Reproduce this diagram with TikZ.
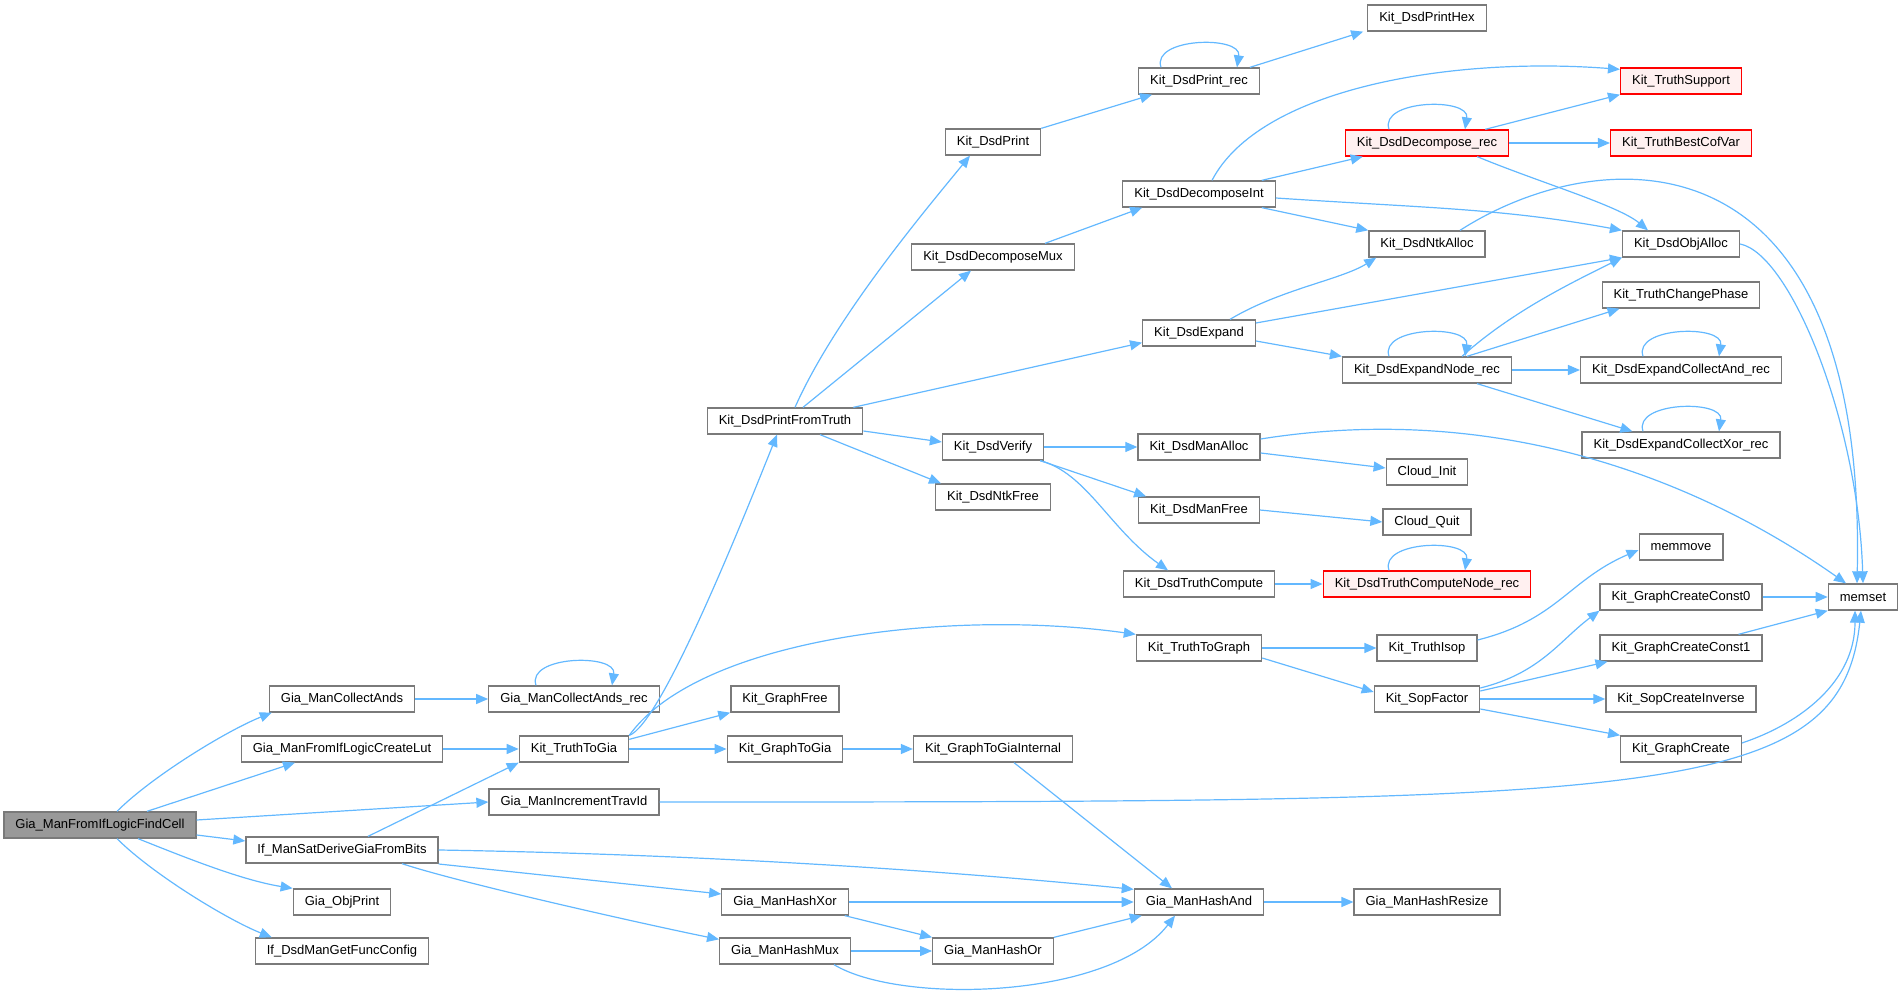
\documentclass[tikz,border=0pt]{standalone}
\usepackage{fontspec}
\setmainfont{Liberation Sans}
\usetikzlibrary{arrows.meta}
\definecolor{edgeblue}{HTML}{63B8FF}
\definecolor{boxgray}{HTML}{7A7A7A}
\definecolor{rootgray}{HTML}{999999}
\definecolor{redline}{HTML}{FF0000}
\definecolor{redfill}{HTML}{FFF0F0}

\begin{document}
\begin{tikzpicture}[x=0.5pt, y=-0.5pt,
    every node/.style={rectangle, draw=boxgray, line width=0.65pt, fill=white, inner xsep=5.75pt, inner ysep=0pt, minimum height=13pt, font=\fontsize{6.5}{7.8}\selectfont},
    rootbox/.style={fill=rootgray},
    redbox/.style={draw=redline, fill=redfill},
    call/.style={draw=edgeblue, line width=0.6pt, -{Triangle[length=6pt,width=5pt]}}]
    \useasboundingbox (0,0) rectangle (1903,994);

    % column 1 and 2
    \node[rootbox] (findcell) at (100,825) {Gia\_ManFromIfLogicFindCell};
    \node (collectands) at (342,699) {Gia\_ManCollectAnds};
    \node (createlut) at (342,749) {Gia\_ManFromIfLogicCreateLut};
    \node (satderive) at (342,850) {If\_ManSatDeriveGiaFromBits};
    \node (objprint) at (342,902) {Gia\_ObjPrint};
    \node (funcconfig) at (342,951) {If\_DsdManGetFuncConfig};

    % column 3
    \node (collectrec) at (574,699) {Gia\_ManCollectAnds\_rec};
    \node (truthtogia) at (574,749) {Kit\_TruthToGia};
    \node (travid) at (574,802) {Gia\_ManIncrementTravId};

    % column 4
    \node (printfromtruth) at (785,421) {Kit\_DsdPrintFromTruth};
    \node (graphfree) at (785,699) {Kit\_GraphFree};
    \node (graphtogia) at (785,749) {Kit\_GraphToGia};
    \node (hashxor) at (785,902) {Gia\_ManHashXor};
    \node (hashmux) at (785,951) {Gia\_ManHashMux};

    % column 5
    \node (dsdprint) at (993,142) {Kit\_DsdPrint};
    \node (decompmux) at (993,257) {Kit\_DsdDecomposeMux};
    \node (verify) at (993,447) {Kit\_DsdVerify};
    \node (ntkfree) at (993,497) {Kit\_DsdNtkFree};
    \node (togiainternal) at (993,749) {Kit\_GraphToGiaInternal};
    \node (hashor) at (993,951) {Gia\_ManHashOr};

    % column 6
    \node (printrec) at (1199,81) {Kit\_DsdPrint\_rec};
    \node (decompint) at (1199,194) {Kit\_DsdDecomposeInt};
    \node (expand) at (1199,333) {Kit\_DsdExpand};
    \node (manalloc) at (1199,447) {Kit\_DsdManAlloc};
    \node (manfree) at (1199,510) {Kit\_DsdManFree};
    \node (truthcompute) at (1199,584) {Kit\_DsdTruthCompute};
    \node (truthtograph) at (1199,648) {Kit\_TruthToGraph};
    \node (hashand) at (1199,902) {Gia\_ManHashAnd};

    % column 7
    \node (printhex) at (1427,18) {Kit\_DsdPrintHex};
    \node[redbox] (decomprec) at (1427,143) {Kit\_DsdDecompose\_rec};
    \node (ntkalloc) at (1427,244) {Kit\_DsdNtkAlloc};
    \node (expandnode) at (1427,370) {Kit\_DsdExpandNode\_rec};
    \node (cloudinit) at (1427,472) {Cloud\_Init};
    \node (cloudquit) at (1427,522) {Cloud\_Quit};
    \node[redbox] (computenode) at (1427,584) {Kit\_DsdTruthComputeNode\_rec};
    \node (truthisop) at (1427,648) {Kit\_TruthIsop};
    \node (sopfactor) at (1427,699) {Kit\_SopFactor};
    \node (hashresize) at (1427,902) {Gia\_ManHashResize};

    % column 8 and 9
    \node[redbox] (truthsupport) at (1681,81) {Kit\_TruthSupport};
    \node[redbox] (bestcofvar) at (1681,143) {Kit\_TruthBestCofVar};
    \node (objalloc) at (1681,244) {Kit\_DsdObjAlloc};
    \node (changephase) at (1681,295) {Kit\_TruthChangePhase};
    \node (collectand) at (1681,370) {Kit\_DsdExpandCollectAnd\_rec};
    \node (collectxor) at (1681,445) {Kit\_DsdExpandCollectXor\_rec};
    \node (memmove) at (1681,547) {memmove};
    \node (const0) at (1681,597) {Kit\_GraphCreateConst0};
    \node (const1) at (1681,648) {Kit\_GraphCreateConst1};
    \node (sopinverse) at (1681,699) {Kit\_SopCreateInverse};
    \node (graphcreate) at (1681,749) {Kit\_GraphCreate};
    \node (memset) at (1863,597) {memset};

    % calls from the root
    \draw[call] ([xshift=8.5pt]findcell.north) .. controls +(35,-35) and +(-45,18) .. ([xshift=1.5pt]collectands.south west);
    \draw[call] ([xshift=23.5pt]findcell.north) -- ([xshift=-23.5pt]createlut.south);
    \draw[call] ([yshift=2.5pt]findcell.east) -- (travid.west);
    \draw[call] ([yshift=-5pt]findcell.east) -- ([yshift=4.5pt]satderive.west);
    \draw[call] ([xshift=19pt]findcell.south) .. controls +(50,20) and +(-50,-8) .. (objprint.north west);
    \draw[call] ([xshift=8.5pt]findcell.south) .. controls +(35,35) and +(-45,-18) .. ([xshift=8.5pt]funcconfig.north west);

    \draw[call] (collectands) -- (collectrec);
    \draw[call] ([xshift=-19pt]collectrec.north) .. controls +(-10,-30) and +(5,-32) .. ([xshift=19pt]collectrec.north);
    \draw[call] (createlut) -- (truthtogia);
    \draw[call] (travid.east) .. controls +(1000,0) and +(-20,190) .. ([xshift=-1pt]memset.south);
    \draw[call] ([xshift=13pt]satderive.north) -- (truthtogia.south west);
    \draw[call] (satderive.east) .. controls +(300,5) and +(-150,-15) .. ([yshift=-0.5pt]hashand.north west);
    \draw[call] ([yshift=-7pt]satderive.east) -- ([yshift=4pt]hashxor.west);
    \draw[call] ([xshift=30pt]satderive.south) .. controls +(60,20) and +(-60,-12) .. ([yshift=-1pt]hashmux.north west);

    % Kit_TruthToGia
    \draw[call] (truthtogia.north east) .. controls +(31,-11) and +(-40,100) .. ([xshift=-4pt]printfromtruth.south);
    \draw[call] (truthtogia.north east) .. controls +(70,-97) and +(-187,-26) .. (truthtograph.north west);
    \draw[call] ([yshift=-2pt]truthtogia.north east) -- (graphfree.south west);
    \draw[call] (truthtogia) -- (graphtogia);

    % Kit_DsdPrintFromTruth
    \draw[call] ([xshift=5pt]printfromtruth.north) .. controls +(40,-90) and +(-45,55) .. ([xshift=-11.5pt]dsdprint.south);
    \draw[call] ([xshift=9pt]printfromtruth.north) -- ([xshift=-11pt]decompmux.south);
    \draw[call] ([xshift=-5pt]printfromtruth.north east) -- ([yshift=2pt]expand.south west);
    \draw[call] ([yshift=-5pt]printfromtruth.east) -- ([yshift=2.5pt]verify.west);
    \draw[call] ([xshift=17.5pt]printfromtruth.south) -- ([xshift=3pt]ntkfree.north west);

    % hashing
    \draw[call] (graphtogia) -- (togiainternal);
    \draw[call] ([xshift=10.5pt]togiainternal.south) -- ([xshift=-13.5pt]hashand.north);
    \draw[call] (hashxor) -- (hashand);
    \draw[call] ([xshift=-2pt]hashxor.south east) -- (hashor.north west);
    \draw[call] (hashmux) -- (hashor);
    \draw[call] ([xshift=24.5pt]hashmux.south) .. controls +(66,40) and +(-65,84) .. ([xshift=-12pt]hashand.south);
    \draw[call] (hashor.north east) -- ([xshift=4pt]hashand.south west);
    \draw[call] (hashand) -- (hashresize);

    % printing
    \draw[call] (dsdprint.north east) -- ([xshift=7pt]printrec.south west);
    \draw[call] ([xshift=-19pt]printrec.north) .. controls +(-10,-30) and +(5,-32) .. ([xshift=19pt]printrec.north);
    \draw[call] ([xshift=-5pt]printrec.north east) -- ([xshift=-2pt]printhex.south west);

    % decomposition
    \draw[call] ([xshift=26pt]decompmux.north) -- ([xshift=10pt]decompint.south west);
    \draw[call] ([xshift=6.5pt]decompint.north) .. controls +(48,-92) and +(-169,-13) .. ([yshift=-1pt]truthsupport.north west);
    \draw[call] ([xshift=-7pt]decompint.north east) -- ([xshift=9pt]decomprec.south west);
    \draw[call] ([xshift=-7pt]decompint.south east) -- (ntkalloc.north west);
    \draw[call] ([yshift=-2pt]decompint.east) .. controls +(150,10) and +(-120,-22) .. (objalloc.north west);
    \draw[call] ([xshift=-19pt]decomprec.north) .. controls +(-10,-30) and +(5,-32) .. ([xshift=19pt]decomprec.north);
    \draw[call] ([xshift=-12pt]decomprec.north east) -- (truthsupport.south west);
    \draw[call] (decomprec) -- (bestcofvar);
    \draw[call] ([xshift=-16pt]decomprec.south east) .. controls +(60,25) and +(-30,-25) .. ([xshift=-16.5pt]objalloc.north);
    \draw[call] ([xshift=16.5pt]ntkalloc.north) .. controls +(140,-90) and +(10,-460) .. ([xshift=-3pt]memset.north);
    \draw[call] (objalloc.east) .. controls +(50,10) and +(-5,-163) .. (memset.north);

    % expansion
    \draw[call] ([xshift=15.5pt]expand.north) .. controls +(50,-30) and +(-35,22) .. ([xshift=4pt]ntkalloc.south west);
    \draw[call] ([yshift=5pt]expand.east) -- (objalloc.south west);
    \draw[call] ([yshift=-4pt]expand.east) -- (expandnode.north west);
    \draw[call] ([xshift=-19pt]expandnode.north) .. controls +(-10,-30) and +(5,-32) .. ([xshift=19pt]expandnode.north);
    \draw[call] ([xshift=17.5pt]expandnode.north) .. controls +(50,-45) and +(-50,25) .. (objalloc.south west);
    \draw[call] ([xshift=20pt]expandnode.north) -- ([xshift=9pt]changephase.south west);
    \draw[call] (expandnode) -- (collectand);
    \draw[call] ([xshift=25pt]expandnode.south) -- ([xshift=25.5pt]collectxor.north west);
    \draw[call] ([xshift=-19pt]collectand.north) .. controls +(-10,-30) and +(5,-32) .. ([xshift=19pt]collectand.north);
    \draw[call] ([xshift=-19pt]collectxor.north) .. controls +(-10,-30) and +(5,-32) .. ([xshift=19pt]collectxor.north);

    % verification
    \draw[call] (verify) -- (manalloc);
    \draw[call] ([xshift=-2pt]verify.south east) -- ([xshift=4pt]manfree.north west);
    \draw[call] ([xshift=-2pt]verify.south east) .. controls +(46,12) and +(-58,-41) .. ([xshift=-15.5pt]truthcompute.north);
    \draw[call] ([yshift=-3pt]manalloc.east) -- ([yshift=2pt]cloudinit.west);
    \draw[call] ([yshift=4pt]manalloc.east) .. controls +(239,-38) and +(-146,-103) .. ([xshift=-8.5pt]memset.north);
    \draw[call] (manfree.east) -- (cloudquit.west);
    \draw[call] (truthcompute) -- (computenode);
    \draw[call] ([xshift=-19pt]computenode.north) .. controls +(-10,-30) and +(5,-32) .. ([xshift=19pt]computenode.north);

    % truth to graph
    \draw[call] (truthtograph) -- (truthisop);
    \draw[call] ([yshift=-5pt]truthtograph.east) -- ([yshift=3.5pt]sopfactor.west);
    \draw[call] ([yshift=4pt]truthisop.east) .. controls +(80,-20) and +(-70,30) .. ([yshift=-1.5pt]memmove.west);
    \draw[call] ([yshift=5.5pt]sopfactor.east) .. controls +(60,-15) and +(-40,30) .. (const0.south west);
    \draw[call] ([yshift=4pt]sopfactor.east) -- ([xshift=4pt]const1.south west);
    \draw[call] (sopfactor) -- (sopinverse);
    \draw[call] ([yshift=-5pt]sopfactor.east) -- (graphcreate.north west);
    \draw[call] (const0) -- (memset);
    \draw[call] ([xshift=-12pt]const1.north east) -- (memset.south west);
    \draw[call] ([yshift=3pt]graphcreate.east) .. controls +(60,-20) and +(0,70) .. ([xshift=-4pt]memset.south);
  \end{tikzpicture}
\end{document}
